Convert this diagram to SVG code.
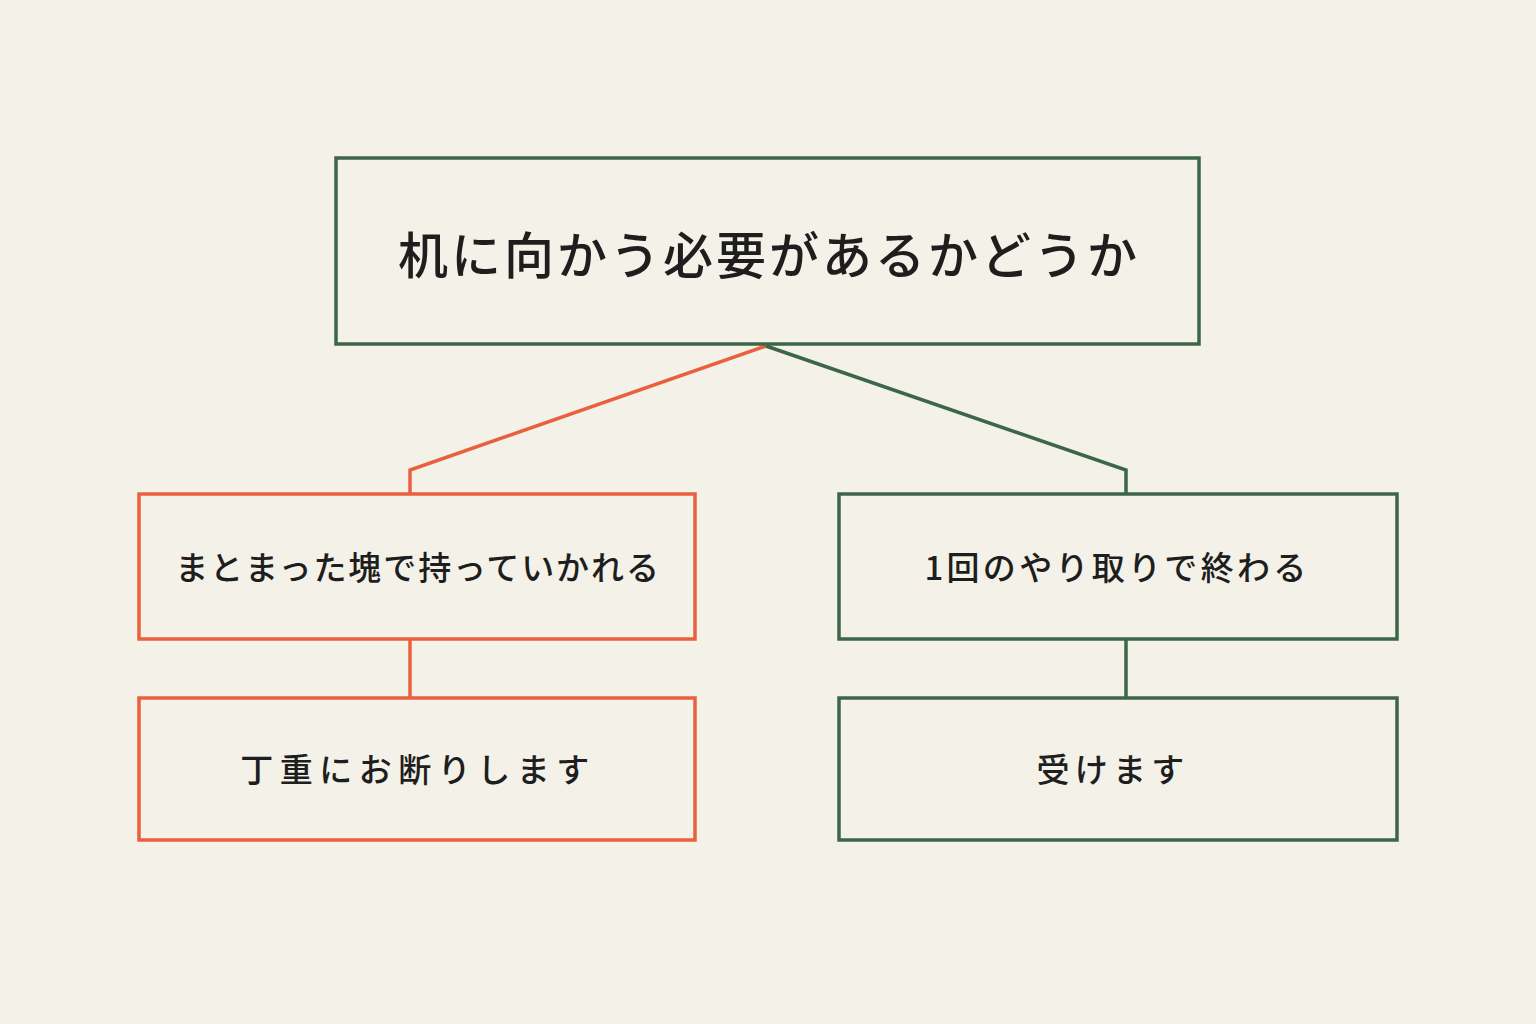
<svg xmlns="http://www.w3.org/2000/svg" width="1536" height="1024" viewBox="0 0 1536 1024">
<style>
.t{font-family:"Noto Sans CJK JP","Noto Sans",sans-serif;font-weight:500;fill:#1e1e1e;text-anchor:middle;dominant-baseline:central}
.g{fill:none;stroke:#3d6648;stroke-width:3.5}
.o{fill:none;stroke:#e8603e;stroke-width:3.5}
</style>
<rect width="1536" height="1024" fill="#f4f1e8"/>
<g id="connectors" fill="none" stroke-width="3.5">
<polyline points="766,346 410,470 410,494" stroke="#e8603e"/>
<polyline points="766,346 1126,470 1126,494" stroke="#3d6648"/>
<line x1="410" y1="639" x2="410" y2="698" stroke="#e8603e"/>
<line x1="1126" y1="639" x2="1126" y2="698" stroke="#3d6648"/>
</g>
<g id="root"><rect class="g" x="336" y="158" width="863" height="186" stroke-width="4.5"/><text class="t" x="769" y="252" font-size="50" letter-spacing="3">机に向かう必要があるかどうか</text></g>
<g id="left"><rect class="o" x="139" y="494" width="556" height="145"/><text class="t" x="418" y="566" font-size="33" letter-spacing="1.9">まとまった塊で持っていかれる</text></g>
<g id="right"><rect class="g" x="839" y="494" width="558" height="145"/><text class="t" x="1117" y="566" font-size="33" letter-spacing="3.3">1回のやり取りで終わる</text></g>
<g id="leftResult"><rect class="o" x="139" y="698" width="556" height="142"/><text class="t" x="418" y="768" font-size="33" letter-spacing="6.5">丁重にお断りします</text></g>
<g id="rightResult"><rect class="g" x="839" y="698" width="558" height="142"/><text class="t" x="1113" y="768" font-size="33" letter-spacing="5.3">受けます</text></g>
</svg>
